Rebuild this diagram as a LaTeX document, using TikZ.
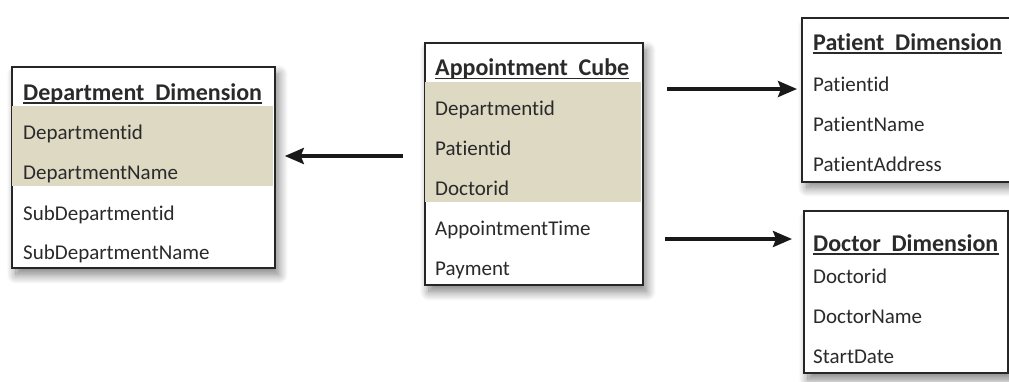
\documentclass[tikz,border=0pt]{standalone}
\usepackage{fontspec}
\setmainfont{Carlito}[Ligatures=NoCommon]
\usetikzlibrary{shadows.blur,arrows.meta}
\definecolor{band}{HTML}{DDD9C3}
\definecolor{ink}{HTML}{2A2A2A}

\begin{document}
\begin{tikzpicture}[x=1pt,y=-1pt,
  tablebox/.style={draw=black!85, line width=1.8pt, fill=white, inner sep=0pt,
    anchor=north west,
    blur shadow={shadow xshift=4pt, shadow yshift=-7pt, shadow blur radius=9pt,
      shadow blur steps=12, shadow opacity=50}},
  tabletitle/.style={anchor=base west, inner sep=0pt, text=ink,
    font=\fontsize{24}{28}\selectfont\bfseries},
  field/.style={anchor=base west, inner sep=0pt, text=ink,
    font=\fontsize{21}{25}\selectfont},
  titleline/.style={line width=1.4pt, draw=ink},
  boxline/.style={draw=black!85, line width=1.8pt},
  conn/.style={line width=3.5pt, draw=black!90,
    -{Stealth[length=19pt,width=16pt,inset=3pt]}},
]
\useasboundingbox (0,0) rectangle (1009,381);
\clip (0,0) rectangle (1009,381);

% ---------- Department dimension ----------
\node[tablebox, minimum width=263pt, minimum height=201pt] (dept) at (11,66) {};
\fill[band] (11.9,106) rectangle (273.1,186);
\node[tabletitle] (deptT) at (23,100) {Department\hspace{0.45em}Dimension};
\draw[titleline] ([yshift=-3pt]deptT.base west) -- ([yshift=-3pt]deptT.base east);
\node[field] (d1) at (23,139) {Departmentid};
\node[field] (d2) at (23,179) {DepartmentName};
\node[field] (d3) at (23,220) {SubDepartmentid};
\node[field] (d4) at (23,259) {SubDepartmentName};

% ---------- Appointment cube ----------
\node[tablebox, minimum width=218pt, minimum height=242pt] (cube) at (424,42) {};
\fill[band] (424.9,82) rectangle (641.1,202);
\node[tabletitle] (cubeT) at (435,75) {Appointment\hspace{0.45em}Cube};
\draw[titleline] ([yshift=-3.5pt]cubeT.base west) -- ([yshift=-3.5pt]cubeT.base east);
\node[field] (c1) at (435,115) {Departmentid};
\node[field] (c2) at (435,155) {Patientid};
\node[field] (c3) at (435,195) {Doctorid};
\node[field] (c4) at (435,235) {AppointmentTime};
\node[field] (c5) at (435,275) {Payment};

% ---------- Patient dimension (runs past the right edge) ----------
\node[tablebox, draw=none, minimum width=240pt, minimum height=162pt] (patient) at (802,18) {};
\draw[boxline] (patient.north east) -- (patient.north west)
  -- (patient.south west) -- (patient.south east);
\node[tabletitle] (patT) at (813,50) {Patient\hspace{0.45em}Dimension};
\draw[titleline] ([yshift=-3pt]patT.base west) -- ([yshift=-3pt]patT.base east);
\node[field] (p1) at (813,91) {Patientid};
\node[field] (p2) at (813,131) {PatientName};
\node[field] (p3) at (813,171) {PatientAddress};

% ---------- Doctor dimension ----------
\node[tablebox, minimum width=204pt, minimum height=162pt] (doctor) at (803,210) {};
\node[tabletitle] (docT) at (813,251) {Doctor\hspace{0.45em}Dimension};
\draw[titleline] ([yshift=-3pt]docT.base west) -- ([yshift=-3pt]docT.base east);
\node[field] (o1) at (813,283) {Doctorid};
\node[field] (o2) at (813,323) {DoctorName};
\node[field] (o3) at (813,363) {StartDate};

% ---------- connectors ----------
\draw[conn, shorten <=21pt, shorten >=9pt] (cube.west |- 0,156) -- (dept.east |- 0,156);
\draw[conn, shorten <=23pt, shorten >=5pt] (cube.east |- 0,89) -- (patient.west |- 0,89);
\draw[conn, shorten <=21pt, shorten >=11pt] (cube.east |- 0,239) -- (doctor.west |- 0,239);
\end{tikzpicture}
\end{document}
